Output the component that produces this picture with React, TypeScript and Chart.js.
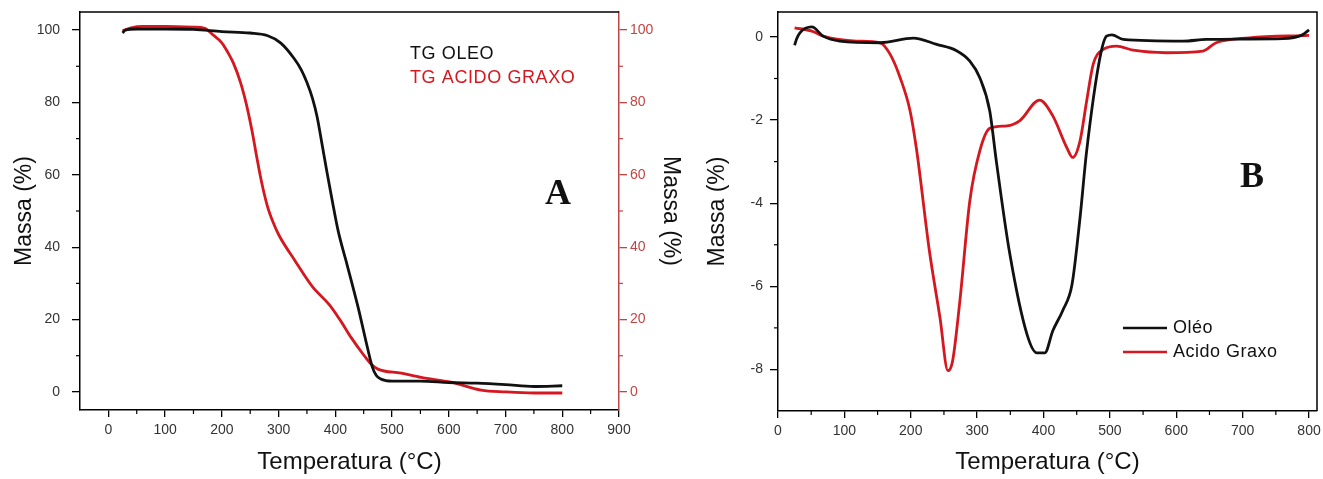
import React, { useEffect, useRef } from 'react';
import { Chart, registerables } from 'chart.js';
Chart.register(...registerables);

// ---------- Panel A : TG curves ----------
const tgOleoTemp = [25, 30, 50, 100, 150, 200, 250, 280, 304, 328, 340, 350, 360, 368, 376, 385, 395, 405, 421, 440, 457, 465, 472, 480, 500, 550, 600, 650, 700, 750, 800];
const tgOleoMass = [99.2, 100, 100.3, 100.3, 100.2, 99.6, 99.2, 98.5, 96.4, 92, 89, 85.5, 81, 76, 69, 61, 52.5, 44.5, 35, 23.5, 12, 7, 4.6, 3.6, 3.0, 3.0, 2.6, 2.4, 2.0, 1.5, 1.7];
const tgAcidoTemp = [25, 40, 60, 100, 150, 170, 185, 200, 210, 220, 233, 244, 254, 262, 270, 280, 290, 300, 330, 360, 390, 410, 428, 451, 463, 475, 516, 551, 604, 657, 700, 750, 800];
const tgAcidoMass = [99.8, 100.6, 101, 101, 100.8, 100.5, 98.6, 96.5, 94, 91, 85.5, 79, 71.5, 64.5, 58, 51.5, 47, 43.5, 36, 29, 24, 19.5, 15, 10, 7.7, 6.3, 5.2, 4, 2.7, 0.5, 0, -0.3, -0.3];
const xTicksA = [0, 100, 200, 300, 400, 500, 600, 700, 800, 900];
const xMinorA = [50, 150, 250, 350, 450, 550, 650, 750, 850];
const yTicksA = [0, 20, 40, 60, 80, 100];
const yMinorA = [10, 30, 50, 70, 90];

// ---------- Panel B : DTG curves ----------
const dtgOleoTemp = [25, 28, 33, 51, 68, 93, 154, 204, 239, 269, 289, 304, 319, 329, 349, 375, 390, 402, 414, 429, 443, 455, 465, 485, 495, 503, 520, 610, 645, 700, 760, 790, 800];
const dtgOleoVal = [-0.2, -0.05, 0.1, 0.24, 0.02, -0.1, -0.14, -0.03, -0.18, -0.33, -0.58, -0.98, -1.78, -3.0, -5.2, -7.15, -7.6, -7.6, -7.07, -6.58, -5.95, -4.35, -2.74, -0.5, 0.02, 0.05, -0.06, -0.1, -0.06, -0.05, -0.04, 0.05, 0.17];
const dtgAcidoTemp = [25, 51, 68, 118, 154, 169, 184, 199, 209, 228, 244, 256, 263, 274, 289, 304, 319, 345, 364, 394, 414, 435, 444, 455, 465, 475, 490, 510, 535, 585, 640, 660, 710, 800];
const dtgAcidoVal = [0.22, 0.14, 0.02, -0.1, -0.14, -0.42, -0.98, -1.78, -2.74, -5.14, -6.75, -8.03, -7.8, -6.35, -3.94, -2.74, -2.2, -2.14, -2.02, -1.52, -1.9, -2.66, -2.9, -2.5, -1.54, -0.65, -0.3, -0.22, -0.32, -0.38, -0.34, -0.14, -0.02, 0.04];
const xTicksB = [0, 100, 200, 300, 400, 500, 600, 700, 800];
const xMinorB = [50, 150, 250, 350, 450, 550, 650, 750];
const yTicksB = [-8, -6, -4, -2, 0];
const yMinorB = [-7, -5, -3, -1];

const labelsA = ['TG OLEO', 'TG ACIDO GRAXO'];
const labelsB = ['Oléo', 'Acido Graxo'];

const BLACK = '#111111';
const RED = '#d5171f';
const AXIS_RED = '#c04646';
const SANS = "'Liberation Sans', Arial, sans-serif";

const pts = (xs: number[], ys: number[]) => xs.map((x, i) => ({ x, y: ys[i] }));

function decorPlugin(cfg: any) {
  return {
    id: 'decor',
    afterDraw(chart: any) {
      const ctx = chart.ctx;
      const a = chart.chartArea;
      ctx.save();
      ctx.strokeStyle = '#000';
      ctx.lineWidth = 1.5;
      ctx.beginPath();
      ctx.moveTo(a.left, a.top);
      ctx.lineTo(a.right, a.top);
      if (cfg.rightBorder) ctx.lineTo(a.right, a.bottom);
      ctx.stroke();
      for (const m of cfg.minor) {
        const s = chart.scales[m.scale];
        ctx.strokeStyle = m.color;
        ctx.lineWidth = 1.2;
        for (const v of m.values) {
          const p = s.getPixelForValue(v);
          ctx.beginPath();
          if (s.position === 'bottom') { ctx.moveTo(p, a.bottom); ctx.lineTo(p, a.bottom + 4); }
          else if (s.position === 'left') { ctx.moveTo(a.left, p); ctx.lineTo(a.left - 4, p); }
          else { ctx.moveTo(a.right, p); ctx.lineTo(a.right + 4, p); }
          ctx.stroke();
        }
      }
      ctx.textBaseline = 'middle';
      for (const t of cfg.texts) {
        ctx.font = t.font;
        ctx.fillStyle = t.color;
        ctx.textAlign = t.align || 'center';
        (ctx as any).letterSpacing = t.spacing || '0px';
        ctx.fillText(t.text, t.x, t.y);
      }
      if (cfg.legend) {
        const L = cfg.legend;
        chart.data.datasets.forEach((ds: any, i: number) => {
          const y = L.y + i * L.gap;
          if (L.lines) {
            ctx.strokeStyle = ds.borderColor;
            ctx.lineWidth = 2.6;
            ctx.beginPath();
            ctx.moveTo(L.x, y);
            ctx.lineTo(L.x + L.lineLen, y);
            ctx.stroke();
          }
          ctx.font = L.font;
          ctx.fillStyle = L.lines ? '#111' : ds.borderColor;
          ctx.textAlign = 'left';
          (ctx as any).letterSpacing = L.spacing;
          ctx.fillText(ds.label, L.x + (L.lines ? L.lineLen + 6 : 0), y);
        });
      }
      ctx.restore();
    },
  };
}

const fixTicks = (vals: number[]) => (scale: any) => {
  scale.ticks = vals.map((v) => ({ value: v }));
};

function axisX(ticks: number[], min: number, max: number, height: number) {
  return {
    type: 'linear',
    position: 'bottom',
    min,
    max,
    afterBuildTicks: fixTicks(ticks),
    afterFit: (s: any) => { s.height = height; s.paddingLeft = 0; s.paddingRight = 0; },
    grid: { drawOnChartArea: false, drawTicks: true, tickLength: 7, color: '#000', lineWidth: 1.3 },
    border: { display: true, color: '#000', width: 1.5 },
    ticks: { autoSkip: false, maxRotation: 0, padding: 5, color: '#333', font: { family: SANS, size: 14 }, callback: (v: any) => String(v) },
    title: { display: true, text: 'Temperatura (°C)', color: '#111', font: { family: SANS, size: 24 }, padding: { top: 0, bottom: 2 } },
  };
}

function axisY(position: string, ticks: number[], min: number, max: number, width: number, color: string, tickColor: string, pad: number, titlePad: number) {
  return {
    type: 'linear',
    position,
    min,
    max,
    afterBuildTicks: fixTicks(ticks),
    afterFit: (s: any) => { s.width = width; s.paddingTop = 0; s.paddingBottom = 0; },
    grid: { drawOnChartArea: false, drawTicks: true, tickLength: 8, color, lineWidth: 1.3 },
    border: { display: true, color, width: 1.5 },
    ticks: { autoSkip: false, padding: pad, color: tickColor, font: { family: SANS, size: 14 }, callback: (v: any) => String(v) },
    title: { display: true, text: 'Massa (%)', color: '#111', font: { family: SANS, size: 23 }, padding: { top: titlePad, bottom: 0 } },
  };
}

function ChartCanvas({ config, width, height, left }: any) {
  const ref = useRef<HTMLCanvasElement>(null);
  useEffect(() => {
    const chart = new Chart(ref.current as HTMLCanvasElement, config);
    return () => chart.destroy();
  }, []);
  return <canvas ref={ref} width={width} height={height} style={{ position: 'absolute', left, top: 0, width, height }} />;
}

const lineDs = (label: string, data: any, color: string, yAxisID: string) => ({
  label,
  data,
  borderColor: color,
  backgroundColor: color,
  borderWidth: 2.8,
  pointRadius: 0,
  cubicInterpolationMode: 'monotone',
  yAxisID,
});

export default function App() {
  const configA: any = {
    type: 'line',
    data: {
      datasets: [
        lineDs(labelsA[0], pts(tgOleoTemp, tgOleoMass), BLACK, 'y'),
        lineDs(labelsA[1], pts(tgAcidoTemp, tgAcidoMass), RED, 'y1'),
      ],
    },
    options: {
      responsive: false,
      animation: false,
      devicePixelRatio: 1,
      layout: { padding: { top: 12, left: 0, right: 0, bottom: 0 } },
      plugins: { legend: { display: false }, tooltip: { enabled: false } },
      scales: {
        x: axisX(xTicksA, -50, 900, 69),
        y: axisY('left', yTicksA, -5, 105, 80, '#000', '#333', 12, 11),
        y1: axisY('right', yTicksA, -5, 105, 71, AXIS_RED, AXIS_RED, 3, 6),
      },
    },
    plugins: [
      decorPlugin({
        rightBorder: false,
        minor: [
          { scale: 'x', values: xMinorA, color: '#000' },
          { scale: 'y', values: yMinorA, color: '#000' },
          { scale: 'y1', values: yMinorA, color: AXIS_RED },
        ],
        texts: [{ text: 'A', x: 558, y: 195, font: "bold 36px 'Liberation Serif', 'Times New Roman', serif", color: '#111' }],
        legend: { x: 410, y: 54, gap: 24, lines: false, font: `18px ${SANS}`, spacing: '0.6px' },
      }),
    ],
  };

  const configB: any = {
    type: 'line',
    data: {
      datasets: [
        lineDs(labelsB[0], pts(dtgOleoTemp, dtgOleoVal), BLACK, 'y'),
        lineDs(labelsB[1], pts(dtgAcidoTemp, dtgAcidoVal), RED, 'y'),
      ],
    },
    options: {
      responsive: false,
      animation: false,
      devicePixelRatio: 1,
      layout: { padding: { top: 12, left: 0, right: 6, bottom: 0 } },
      plugins: { legend: { display: false }, tooltip: { enabled: false } },
      scales: {
        x: axisX(xTicksB, 0, 812, 68),
        y: axisY('left', yTicksB, -9, 0.6, 88, '#000', '#333', 7, 14),
      },
    },
    plugins: [
      decorPlugin({
        rightBorder: true,
        minor: [
          { scale: 'x', values: xMinorB, color: '#000' },
          { scale: 'y', values: yMinorB, color: '#000' },
        ],
        texts: [{ text: 'B', x: 562, y: 178, font: "bold 36px 'Liberation Serif', 'Times New Roman', serif", color: '#111' }],
        legend: { x: 433, y: 328, gap: 24, lines: true, lineLen: 44, font: `18px ${SANS}`, spacing: '0.5px' },
      }),
    ],
  };

  return (
    <div style={{ position: 'absolute', left: 0, top: 0, width: 1323, height: 479, background: '#fff' }}>
      <ChartCanvas config={configA} width={690} height={479} left={0} />
      <ChartCanvas config={configB} width={633} height={479} left={690} />
    </div>
  );
}
